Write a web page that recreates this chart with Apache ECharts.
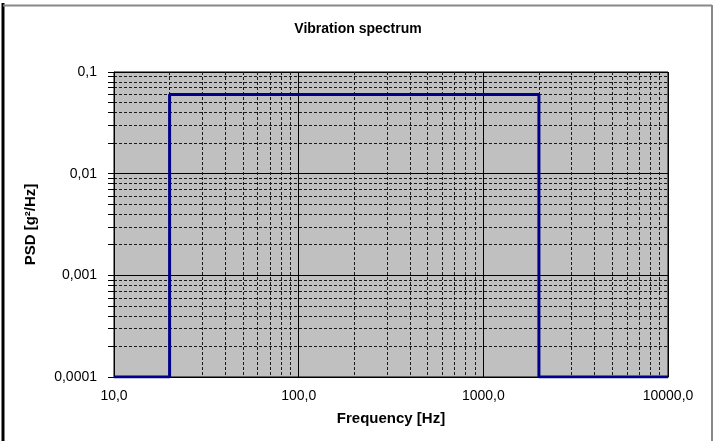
<!DOCTYPE html>
<html>
<head>
<meta charset="utf-8">
<script src="https://cdn.jsdelivr.net/npm/echarts@6/dist/echarts.min.js"></script>
<style>html,body{margin:0;padding:0;background:#fff}#c{width:716px;height:441px}</style>
</head>
<body>
<div id="c"></div>
<script>
var freq = [10, 20, 20, 2000, 2000, 10000];
var psd = [0.0001, 0.0001, 0.06, 0.06, 0.0001, 0.0001];

var chart = echarts.init(document.getElementById('c'));
var font = 'Liberation Sans, Arial, sans-serif';
chart.setOption({
  animation: false,
  backgroundColor: '#fff',
  title: {text: 'Vibration spectrum', left: 'center', top: 17,
    textStyle: {fontFamily: font, fontSize: 14, fontWeight: 'bold', color: '#000'}},
  grid: {left: 114, right: 48, top: 72, bottom: 64, show: true, backgroundColor: '#c0c0c0', borderColor: '#000', borderWidth: 1},
  xAxis: {type: 'log', min: 10, max: 10000, logBase: 10,
    name: 'Frequency [Hz]', nameLocation: 'middle', nameGap: 34,
    nameTextStyle: {fontFamily: font, fontSize: 15, fontWeight: 'bold', color: '#000'},
    axisLine: {lineStyle: {color: '#000'}}, axisTick: {show: false},
    axisLabel: {fontFamily: font, fontSize: 14, color: '#000', margin: 12,
      formatter: function(v){return v.toFixed(1).replace('.', ',');}},
    splitLine: {show: true, lineStyle: {color: '#000', width: 1}},
    minorTick: {show: false, splitNumber: 9},
    minorSplitLine: {show: true, lineStyle: {color: '#1a1a1a', type: [3, 2]}}},
  yAxis: {type: 'log', min: 0.0001, max: 0.1, logBase: 10,
    name: 'PSD [g²/Hz]', nameLocation: 'middle', nameGap: 76,
    nameTextStyle: {fontFamily: font, fontSize: 15, fontWeight: 'bold', color: '#000'},
    axisLine: {lineStyle: {color: '#000'}},
    axisTick: {show: true, length: 6, lineStyle: {color: '#000'}},
    axisLabel: {fontFamily: font, fontSize: 14, color: '#000', margin: 17,
      formatter: function(v){return String(v).replace('.', ',');}},
    splitLine: {show: true, lineStyle: {color: '#000', width: 1}},
    minorTick: {show: true, splitNumber: 9, length: 6, lineStyle: {color: '#000'}},
    minorSplitLine: {show: true, lineStyle: {color: '#1a1a1a', type: [3, 2]}}},
  series: [{type: 'line', data: freq.map(function(f, i){return [f, psd[i]];}),
    showSymbol: false, lineStyle: {color: '#00008b', width: 3}, z: 5}],
  graphic: [
    {type: 'line', shape: {x1: 3, y1: 3, x2: 3, y2: 441}, style: {stroke: '#000', lineWidth: 3}},
    {type: 'line', shape: {x1: 3, y1: 5.5, x2: 712, y2: 5.5}, style: {stroke: '#888', lineWidth: 2}},
    {type: 'line', shape: {x1: 712, y1: 5, x2: 712, y2: 441}, style: {stroke: '#888', lineWidth: 2}}
  ]
});
</script>
</body>
</html>
